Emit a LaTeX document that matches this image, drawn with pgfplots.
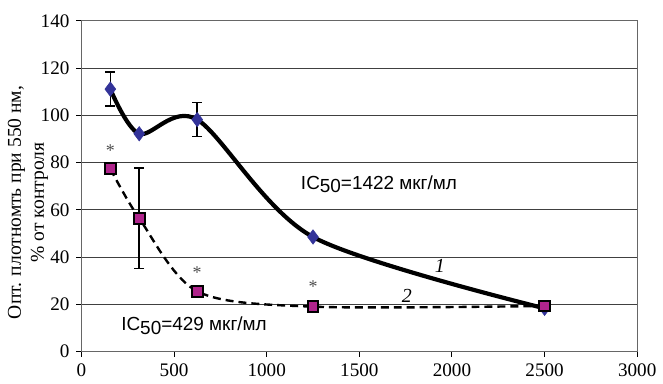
\documentclass[border=0pt]{standalone}
\usepackage{fontspec}
\setmainfont{Liberation Serif}
\newfontfamily\arial{Liberation Sans}
\newfontfamily\tnr{Liberation Serif}
\usepackage{pgfplots}
\pgfplotsset{compat=1.18}
\definecolor{dblue}{RGB}{51,51,153}
\definecolor{mag}{RGB}{176,36,140}
\begin{document}
\begin{tikzpicture}
\path (-40.85pt,-13.15pt) rectangle (290.65pt,176.35pt);
\begin{axis}[
  at={(0,0)}, anchor=south west,
  width=278.8pt, height=165.9pt, scale only axis,
  xmin=0, xmax=3000, ymin=0, ymax=140,
  xtick={0,500,1000,1500,2000,2500,3000}, ytick={0,20,40,60,80,100,120,140},
  xticklabels={\textrm{0},\textrm{500},\textrm{1000},\textrm{1500},\textrm{2000},\textrm{2500},\textrm{3000}},
  yticklabels={\textrm{0},\textrm{20},\textrm{40},\textrm{60},\textrm{80},\textrm{100},\textrm{120},\textrm{140}},
  tick align=outside, xtick pos=bottom, ytick pos=left,
  major tick length=2.5pt,
  tick style={black, line width=0.5pt},
  ymajorgrids, grid style={black!75, line width=0.4pt},
  axis line style={black!60, line width=0.5pt},
  tick label style={font=\tnr\fontsize{9.6}{10}\selectfont},
  clip=false,
]
% series 1
\addplot[black, line width=2.1pt, smooth, mark=diamond*, mark size=3.6pt,
  mark options={fill=dblue, draw=dblue, line width=0.3pt, solid},
  error bars/.cd, y dir=both, y explicit,
  error bar style={black, line width=0.8pt, solid}, error mark options={rotate=90, mark size=2.5pt, line width=0.8pt, black}]
  coordinates {
  (156,111.1) +- (0,7.2)
  (312,92.2) +- (0,0)
  (625,98.2) +- (0,7.2)
  (1250,48.5) +- (0,0)
  (2500,18.3) +- (0,0)
  };
% series 2
\addplot[black, line width=1.2pt, smooth, dash pattern=on 4pt off 2.5pt, mark=square*, mark size=2.7pt,
  mark options={fill=mag, draw=black, line width=1pt, solid},
  error bars/.cd, y dir=both, y explicit,
  error bar style={black, line width=0.8pt, solid}, error mark options={rotate=90, mark size=2.5pt, line width=0.8pt, black}]
  coordinates {
  (156,77.4) +- (0,0)
  (312,56.4) +- (0,21.2)
  (625,25.5) +- (0,1.5)
  (1250,19.0) +- (0,0)
  (2500,19.3) +- (0,0)
  };
\node[font=\tnr\fontsize{9}{9}\selectfont, text=black!70] at (axis cs:156,85) {*};
\node[font=\tnr\fontsize{9}{9}\selectfont, text=black!70] at (axis cs:625,33.5) {*};
\node[font=\tnr\fontsize{9}{9}\selectfont, text=black!70] at (axis cs:1250,27.5) {*};
\node[anchor=west, font=\arial\fontsize{9.5}{10}\selectfont, inner sep=0pt] at (axis cs:1183,70.8) {IC\raisebox{-0.35ex}{50}=1422 мкг/мл};
\node[anchor=west, font=\arial\fontsize{9.5}{10}\selectfont, inner sep=0pt] at (axis cs:213,11) {IC\raisebox{-0.35ex}{50}=429 мкг/мл};
\node[font=\tnr\itshape\fontsize{10}{10}\selectfont] at (axis cs:1935,36.3) {1};
\node[font=\tnr\itshape\fontsize{10}{10}\selectfont] at (axis cs:1756,23.6) {2};
\node[rotate=90, align=center, font=\tnr\fontsize{9.8}{11.5}\selectfont] at (axis description cs:-0.0963,0.451) {Опт. плотномть при 550 нм,\\\% от контроля};
\end{axis}
\end{tikzpicture}
\end{document}
